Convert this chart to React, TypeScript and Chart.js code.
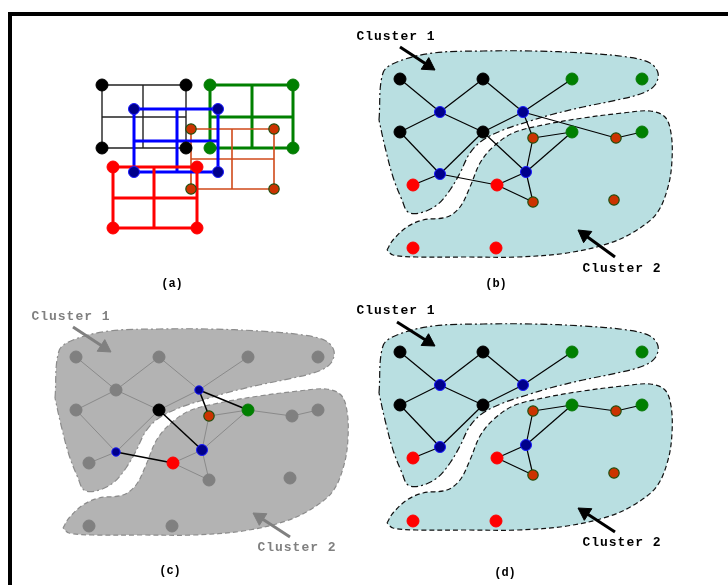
import React, { useEffect, useRef } from 'react';
import { Chart, registerables } from 'chart.js';

Chart.register(...registerables);

const W = 728;
const H = 585;

// Outer frame (top-left corner)
const frameX = [10, 10, 728];
const frameY = [585, 14, 14];

// Panel (a): overlapping grid rectangles  [left, middle, right] / [top, middle, bottom]
const rectKinds = ['black', 'green', 'brown', 'blue', 'red'];
const rectXs = [
  [102, 143, 186],
  [210, 252, 293],
  [191, 232, 274],
  [134, 177, 218],
  [113, 154, 197],
];
const rectYs = [
  [85, 117, 148],
  [85, 117, 148],
  [129, 159, 189],
  [109, 141, 172],
  [167, 198, 228],
];
const rectLineColor = ['#222222', '#008000', '#d04a1a', '#0000ff', '#ff0000'];
const rectLineWidth = [1.4, 3, 1.6, 3, 3];
const rectNodeKind = ['black', 'green', 'orange', 'blue', 'red'];

// Graph nodes (coordinates of panel (b))
const nodeIds = ['k1', 'k2', 'g1', 'g2', 'b1', 'b2', 'k3', 'k4', 'o1', 'g3', 'o2', 'g4', 'b3', 'b4', 'r1', 'r2', 'o3', 'o4', 'r3', 'r4'];
const nodeX = [400, 483, 572, 642, 440, 523, 400, 483, 533, 572, 616, 642, 440, 526, 413, 497, 533, 614, 413, 496];
const nodeY = [79, 79, 79, 79, 112, 112, 132, 132, 138, 132, 138, 132, 174, 172, 185, 185, 202, 200, 248, 248];
const nodeKind = ['black', 'black', 'green', 'green', 'blue', 'blue', 'black', 'black', 'orange', 'green', 'orange', 'green', 'blue', 'blue', 'red', 'red', 'orange', 'orange', 'red', 'red'];

// Panel offsets relative to panel (b)
const offsetB = [0, 0];
const offsetC = [-324, 278];
const offsetD = [0, 273];

// Edges
const edgesB = [
  ['k1', 'b1'], ['b1', 'k2'], ['k2', 'b2'], ['b2', 'g1'], ['b1', 'k3'], ['b1', 'k4'], ['k4', 'b2'],
  ['k3', 'b3'], ['b3', 'k4'], ['b3', 'r1'], ['b3', 'r2'], ['k4', 'b4'], ['b2', 'o1'], ['b2', 'o2'],
  ['o2', 'g4'], ['o1', 'g3'], ['o1', 'b4'], ['g3', 'b4'], ['b4', 'r2'], ['b4', 'o3'], ['r2', 'o3'],
];
const edgesD = [
  ['k1', 'b1'], ['b1', 'k2'], ['k2', 'b2'], ['b2', 'g1'], ['b1', 'k3'], ['b1', 'k4'], ['k4', 'b2'],
  ['k3', 'b3'], ['b3', 'k4'], ['b3', 'r1'], ['o1', 'g3'], ['o1', 'b4'], ['g3', 'b4'], ['g3', 'o2'],
  ['o2', 'g4'], ['b4', 'r2'], ['b4', 'o3'], ['r2', 'o3'],
];
const edgesCCut = [['b2', 'o1'], ['b2', 'g3'], ['k4', 'b4'], ['b3', 'r2']];
const highlightC: Record<string, string> = { b2: 'blueSmall', k4: 'black', o1: 'orange', g3: 'green', b3: 'blueSmall', b4: 'blue', r2: 'red' };

// Cluster outlines (panel (b) coordinates)
const cluster1X = [379, 383, 397, 433, 483, 533, 583, 627, 650, 658, 655, 643, 617, 583, 550, 527, 503, 483, 470, 460, 450, 437, 420, 408, 402, 393, 385];
const cluster1Y = [120, 73, 62, 53, 51, 51, 53, 57, 63, 73, 85, 93, 100, 107, 115, 122, 130, 140, 153, 173, 190, 205, 213, 212, 200, 177, 147];
const cluster2X = [387, 393, 407, 423, 447, 460, 470, 480, 493, 513, 543, 583, 623, 650, 665, 671, 672, 668, 657, 637, 610, 567, 517, 467, 417, 393];
const cluster2Y = [250, 240, 227, 220, 217, 207, 187, 163, 147, 133, 125, 118, 113, 111, 117, 133, 160, 187, 213, 230, 243, 253, 257, 257, 257, 255];

// Arrows
const arrowFromX = [400, 615, 73, 290, 397, 615];
const arrowFromY = [47, 257, 327, 537, 322, 532];
const arrowToX = [435, 578, 111, 253, 435, 578];
const arrowToY = [70, 230, 352, 513, 346, 508];
const arrowColor = ['#000000', '#000000', '#808080', '#808080', '#000000', '#000000'];

// Text
const panelLabels = ['(a)', '(b)', '(c)', '(d)'];
const panelLabelX = [172, 496, 170, 505];
const panelLabelY = [284, 284, 571, 573];
const clusterLabels = ['Cluster 1', 'Cluster 2', 'Cluster 1', 'Cluster 2', 'Cluster 1', 'Cluster 2'];
const clusterLabelX = [396, 622, 71, 297, 396, 622];
const clusterLabelY = [37, 269, 317, 548, 311, 543];
const clusterLabelColor = ['#000000', '#000000', '#808080', '#808080', '#000000', '#000000'];

const nodeStyles: Record<string, { bg: string; border: string; r: number; bw: number }> = {
  black: { bg: '#000000', border: '#000000', r: 6, bw: 1 },
  green: { bg: '#008000', border: '#0a7a0a', r: 6, bw: 1 },
  blue: { bg: '#00008b', border: '#1a1aff', r: 5.5, bw: 1 },
  blueSmall: { bg: '#00008b', border: '#1a1aff', r: 4.2, bw: 1 },
  orange: { bg: '#cc3300', border: '#1f5010', r: 5.2, bw: 1.2 },
  red: { bg: '#ff0000', border: '#ff0000', r: 6, bw: 1 },
  gray: { bg: '#808080', border: '#808080', r: 6, bw: 1 },
};

function pts(xs: number[], ys: number[]) {
  return xs.map((x, i) => ({ x, y: ys[i] }));
}

function lineDs(xs: number[], ys: number[], color: string, width: number, extra: any = {}) {
  return {
    type: 'scatter',
    data: pts(xs, ys),
    showLine: true,
    borderColor: color,
    backgroundColor: color,
    borderWidth: width,
    pointRadius: 0,
    pointHoverRadius: 0,
    fill: false,
    tension: 0,
    borderCapStyle: 'butt',
    borderJoinStyle: 'miter',
    ...extra,
  };
}

function nodeDs(xs: number[], ys: number[], kind: string) {
  const s = nodeStyles[kind];
  return {
    type: 'scatter',
    data: pts(xs, ys),
    showLine: false,
    pointRadius: s.r,
    pointHoverRadius: s.r,
    pointBackgroundColor: s.bg,
    pointBorderColor: s.border,
    pointBorderWidth: s.bw,
    backgroundColor: s.bg,
    borderColor: s.border,
  };
}

function buildDatasets() {
  const list: any[] = [];
  // frame
  list.push(lineDs(frameX, frameY, '#000000', 4));

  // panel (a)
  rectKinds.forEach((_, i) => {
    const [l, m, r] = rectXs[i];
    const [t, c, b] = rectYs[i];
    const col = rectLineColor[i];
    const w = rectLineWidth[i];
    list.push(lineDs([l, r, r, l, l], [t, t, b, b, t], col, w));
    list.push(lineDs([m, m], [t, b], col, w));
    list.push(lineDs([l, r], [c, c], col, w));
  });
  rectKinds.forEach((_, i) => {
    const [l, , r] = rectXs[i];
    const [t, , b] = rectYs[i];
    list.push(nodeDs([l, r, l, r], [t, t, b, b], rectNodeKind[i]));
  });

  const idx = (id: string) => nodeIds.indexOf(id);

  const addPanel = (
    off: number[],
    fill: string,
    stroke: string,
    edgesGray: string[][] | null,
    edgesBlack: string[][],
    kindOf: (id: string, i: number) => string
  ) => {
    const [dx, dy] = off;
    const c1x = [...cluster1X, cluster1X[0]].map((v) => v + dx);
    const c1y = [...cluster1Y, cluster1Y[0]].map((v) => v + dy);
    const c2x = [...cluster2X, cluster2X[0]].map((v) => v + dx);
    const c2y = [...cluster2Y, cluster2Y[0]].map((v) => v + dy);
    list.push(lineDs(c1x, c1y, stroke, 1.2, { fill: 'shape', backgroundColor: fill, borderDash: [7, 3, 2, 3], tension: 0.35, borderJoinStyle: 'round' }));
    list.push(lineDs(c2x, c2y, stroke, 1.2, { fill: 'shape', backgroundColor: fill, borderDash: [5, 3], tension: 0.35, borderJoinStyle: 'round' }));
    if (edgesGray) {
      edgesGray.forEach(([a, b]) => {
        const ia = idx(a), ib = idx(b);
        list.push(lineDs([nodeX[ia] + dx, nodeX[ib] + dx], [nodeY[ia] + dy, nodeY[ib] + dy], '#8a8a8a', 1));
      });
    }
    edgesBlack.forEach(([a, b]) => {
      const ia = idx(a), ib = idx(b);
      list.push(lineDs([nodeX[ia] + dx, nodeX[ib] + dx], [nodeY[ia] + dy, nodeY[ib] + dy], '#000000', edgesGray ? 1.5 : 1.2));
    });
    const groups: Record<string, { xs: number[]; ys: number[] }> = {};
    nodeIds.forEach((id, i) => {
      const k = kindOf(id, i);
      if (!groups[k]) groups[k] = { xs: [], ys: [] };
      groups[k].xs.push(nodeX[i] + dx);
      groups[k].ys.push(nodeY[i] + dy);
    });
    ['gray', 'black', 'green', 'red', 'orange', 'blue', 'blueSmall'].forEach((k) => {
      if (groups[k]) list.push(nodeDs(groups[k].xs, groups[k].ys, k));
    });
  };

  addPanel(offsetB, '#b9dfe1', '#111111', null, edgesB, (_id, i) => nodeKind[i]);
  addPanel(offsetC, '#b3b3b3', '#8c8c8c', edgesD, edgesCCut, (id) => highlightC[id] || 'gray');
  addPanel(offsetD, '#b9dfe1', '#111111', null, edgesD, (_id, i) => nodeKind[i]);

  // arrows
  const headR = 8;
  arrowFromX.forEach((fx, i) => {
    const fy = arrowFromY[i];
    const tx = arrowToX[i];
    const ty = arrowToY[i];
    const len = Math.hypot(tx - fx, ty - fy);
    const ux = (tx - fx) / len;
    const uy = (ty - fy) / len;
    const cx = tx - ux * headR;
    const cy = ty - uy * headR;
    list.push(lineDs([fx, cx], [fy, cy], arrowColor[i], 3));
    const rot = (Math.atan2(ux, -uy) * 180) / Math.PI;
    list.push({
      type: 'scatter',
      data: [{ x: cx, y: cy }],
      showLine: false,
      pointStyle: 'triangle',
      pointRotation: rot,
      pointRadius: headR,
      pointHoverRadius: headR,
      pointBackgroundColor: arrowColor[i],
      pointBorderColor: arrowColor[i],
      pointBorderWidth: 1,
    });
  });

  const n = list.length;
  list.forEach((d, i) => {
    d.order = n - i;
  });
  return list;
}

const textPlugin = {
  id: 'figureText',
  afterDatasetsDraw(chart: any) {
    const ctx = chart.ctx;
    const xs = chart.scales.x;
    const ys = chart.scales.y;
    ctx.save();
    ctx.textAlign = 'center';
    ctx.textBaseline = 'middle';
    ctx.font = 'bold 13px "Liberation Mono", "DejaVu Sans Mono", monospace';
    try {
      (ctx as any).letterSpacing = '1px';
    } catch (e) {}
    clusterLabels.forEach((t, i) => {
      ctx.fillStyle = clusterLabelColor[i];
      ctx.fillText(t, xs.getPixelForValue(clusterLabelX[i]), ys.getPixelForValue(clusterLabelY[i]));
    });
    try {
      (ctx as any).letterSpacing = '0px';
    } catch (e) {}
    ctx.font = 'bold 12px "Liberation Mono", "DejaVu Sans Mono", monospace';
    ctx.fillStyle = '#000000';
    panelLabels.forEach((t, i) => {
      ctx.fillText(t, xs.getPixelForValue(panelLabelX[i]), ys.getPixelForValue(panelLabelY[i]));
    });
    ctx.restore();
  },
};

export default function App() {
  const ref = useRef<HTMLCanvasElement | null>(null);
  useEffect(() => {
    if (!ref.current) return;
    const chart = new Chart(ref.current, {
      type: 'scatter',
      data: { datasets: buildDatasets() as any },
      options: {
        animation: false,
        responsive: false,
        maintainAspectRatio: false,
        devicePixelRatio: 1,
        layout: { padding: 0, autoPadding: false },
        events: [],
        plugins: {
          legend: { display: false },
          tooltip: { enabled: false },
          title: { display: false },
        },
        scales: {
          x: { type: 'linear', min: 0, max: W, display: false },
          y: { type: 'linear', min: 0, max: H, reverse: true, display: false },
        },
      } as any,
      plugins: [textPlugin],
    });
    return () => chart.destroy();
  }, []);
  return (
    <div style={{ position: 'absolute', left: 0, top: 0, width: W, height: H, background: '#ffffff' }}>
      <canvas ref={ref} width={W} height={H} style={{ display: 'block', width: W, height: H }} />
    </div>
  );
}
